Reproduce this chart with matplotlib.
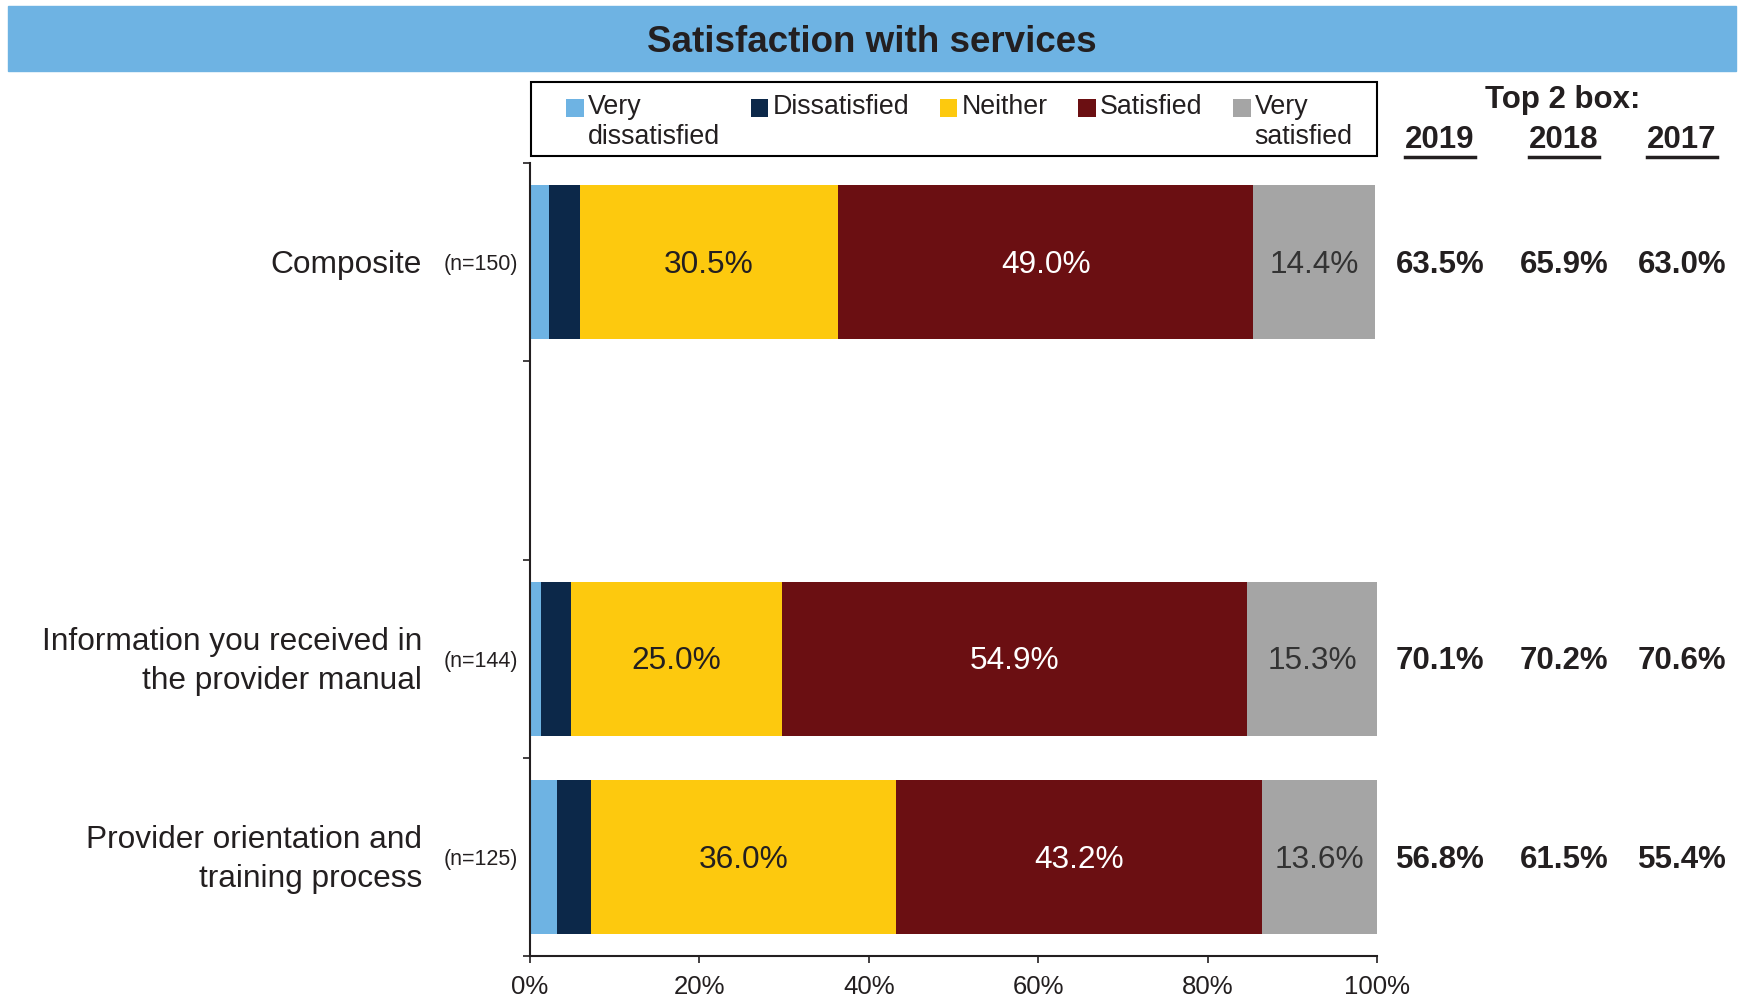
import matplotlib
matplotlib.use("Agg")
import matplotlib.pyplot as plt
from matplotlib.patches import Rectangle, Patch
from matplotlib.lines import Line2D
from matplotlib.legend_handler import HandlerPatch
from matplotlib.transforms import blended_transform_factory, offset_copy

plt.rcParams['font.family'] = ['Liberation Sans', 'DejaVu Sans']

# survey items (second slot intentionally left empty)
categories = ['Composite', '', 'Information you received in\nthe provider manual',
              'Provider orientation and\ntraining process']
n_labels = ['(n=150)', '', '(n=144)', '(n=125)']

very_dissatisfied = [2.2, 0, 1.3, 3.2]
dissatisfied = [3.7, 0, 3.5, 4.0]
neither = [30.5, 0, 25.0, 36.0]
satisfied = [49.0, 0, 54.9, 43.2]
very_satisfied = [14.4, 0, 15.3, 13.6]

years = ['2019', '2018', '2017']
top2_2019 = [63.5, None, 70.1, 56.8]
top2_2018 = [65.9, None, 70.2, 61.5]
top2_2017 = [63.0, None, 70.6, 55.4]

# legend labels are padded to two lines so all entries sit on the top row
series = [
    ('Very\ndissatisfied', very_dissatisfied, '#6EB3E3', None),
    ('Dissatisfied\n', dissatisfied, '#0C2849', None),
    ('Neither\n', neither, '#FDC90E', '#231F20'),
    ('Satisfied\n', satisfied, '#6B0F12', 'white'),
    ('Very\nsatisfied', very_satisfied, '#A5A5A5', '#333333'),
]

TXT = '#231F20'
FS = 22.8

fig = plt.figure(figsize=(17.39, 10.02), dpi=100)
ax = fig.add_axes([530 / 1739, 1 - 956 / 1002, 847 / 1739, 793 / 1002])

# header band
fig.patches.append(Rectangle((8 / 1739, 1 - 71 / 1002), 1728 / 1739, 65 / 1002,
                             transform=fig.transFigure, color='#6EB3E3', zorder=0))
fig.text(872 / 1739, 1 - 42 / 1002, 'Satisfaction with services', ha='center',
         va='center', fontsize=26.5, fontweight='bold', color=TXT)

ypos = list(range(len(categories)))
left = [0.0] * len(categories)
handles = []
for name, vals, color, tcolor in series:
    bars = ax.barh(ypos, vals, left=left, height=0.776, color=color, linewidth=0)
    if tcolor is not None:
        labels = [f'{v:.1f}%' if v else '' for v in vals]
        anns = ax.bar_label(bars, labels=labels, label_type='center', color=tcolor,
                            fontsize=FS)
        for a in anns:
            a.xyann = (0, -2)
    left = [l + v for l, v in zip(left, vals)]
    handles.append(Patch(facecolor=color, label=name))

ax.set_xlim(0, 100)
ax.set_ylim(3.5, -0.5)
ax.set_xticks([0, 20, 40, 60, 80, 100])
ax.set_xticklabels(['0%', '20%', '40%', '60%', '80%', '100%'])
ax.set_yticks([-0.5, 0.5, 1.5, 2.5, 3.5])
ax.set_yticklabels([])
ax.tick_params(axis='x', length=5, width=1.2, pad=9, labelsize=18.5, colors=TXT)
ax.tick_params(axis='y', length=5, width=1.2, colors=TXT)
for s in ['top', 'right']:
    ax.spines[s].set_visible(False)
for s in ['left', 'bottom']:
    ax.spines[s].set_linewidth(1.5)
    ax.spines[s].set_color(TXT)

# category and sample size labels, nudged slightly below the bar centre
tr = blended_transform_factory(ax.transAxes, ax.transData)
tr_down = offset_copy(tr, fig=fig, y=-2, units='points')
for y, cat, n in zip(ypos, categories, n_labels):
    ax.text(-0.1275, y, cat, transform=tr_down, ha='right', va='center', fontsize=FS,
            color=TXT, linespacing=1.38)
    ax.text(-0.0142, y, n, transform=tr_down, ha='right', va='center', fontsize=15.5,
            color=TXT)

# top 2 box columns
col_x = [(1440 - 530) / 847, (1564 - 530) / 847, (1682 - 530) / 847]
tr_head = blended_transform_factory(ax.transAxes, fig.transFigure)
ax.text((1563 - 530) / 847, 1 - 100 / 1002, 'Top 2 box:', transform=tr_head,
        ha='center', va='center', fontsize=22.5, fontweight='bold', color=TXT)
year_texts = []
for cx, yr, vals in zip(col_x, years, [top2_2019, top2_2018, top2_2017]):
    t = ax.text(cx, 1 - 140 / 1002, yr, transform=tr_head, ha='center', va='center',
                fontsize=22.5, fontweight='bold', color=TXT)
    year_texts.append(t)
    for y, v in zip(ypos, vals):
        if v is not None:
            ax.text(cx, y, f'{v:.1f}%', transform=tr_down, ha='center', va='center',
                    fontsize=22.5, fontweight='bold', color=TXT)


def top_square(legend, orig_handle, xdescent, ydescent, width, height, fontsize):
    # lift the swatch up to the first text line
    return Rectangle((-xdescent, -ydescent + 0.55 * fontsize), width, height)


leg = fig.legend(handles=handles, loc='center', ncol=5, mode='expand',
                 bbox_to_anchor=(557 / 1739, 1 - 159 / 1002, 805 / 1739, 74 / 1002),
                 fontsize=19.3, frameon=False,
                 handlelength=0.65, handleheight=0.65, handletextpad=0.15,
                 borderaxespad=0, borderpad=0.35, labelspacing=0.2,
                 handler_map={Patch: HandlerPatch(patch_func=top_square)})
for txt in leg.get_texts():
    txt.set_color(TXT)
    txt.set_linespacing(1.25)

# legend frame spanning the plot width
fig.patches.append(Rectangle((531 / 1739, 1 - 156 / 1002), 846 / 1739, 74 / 1002,
                             transform=fig.transFigure, facecolor='none',
                             edgecolor='black', linewidth=1.5))

# underline the year headings
fig.canvas.draw()
W, H = fig.bbox.width, fig.bbox.height
for t in year_texts:
    bb = t.get_window_extent()
    yl = (bb.y0 - 2) / H
    fig.add_artist(Line2D([bb.x0 / W, bb.x1 / W], [yl, yl], transform=fig.transFigure,
                          color=TXT, linewidth=2.5))

fig.savefig('out.png', dpi=100)
